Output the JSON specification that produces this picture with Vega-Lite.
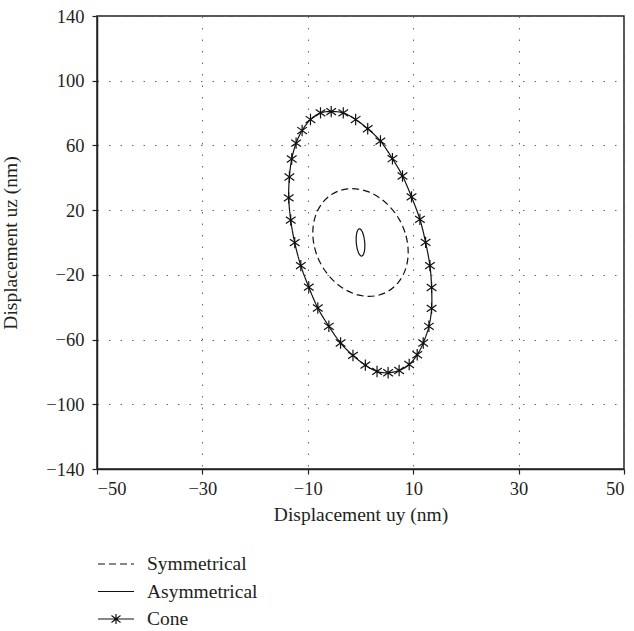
{
 "$schema": "https://vega.github.io/schema/vega-lite/v6.json",
 "width": 527, "height": 453,
 "autosize": {"type": "none"},
 "padding": {"left": 97, "top": 16, "right": 10, "bottom": 162},
 "background": "white",
 "config": {
  "view": {"stroke": "#222", "strokeWidth": 1.5},
  "font": "Liberation Serif",
  "axis": {"domainColor": "#222", "domainWidth": 1.5, "tickColor": "#222", "tickSize": 5, "tickWidth": 1.2,
   "labelFont": "Liberation Serif", "labelFontSize": 18.5, "labelColor": "#231f20",
   "titleFont": "Liberation Serif", "titleFontSize": 19.5, "titleFontWeight": "normal", "titleColor": "#231f20",
   "grid": true, "gridColor": "#666", "gridDash": [1.5, 10], "gridWidth": 1}
 },
 "data": {"values": [
  {"series":"Symmetrical","i":0,"x":9,"y":-2.5},
  {"series":"Symmetrical","i":1,"x":8.45,"y":6.18},
  {"series":"Symmetrical","i":2,"x":7.32,"y":14.43},
  {"series":"Symmetrical","i":3,"x":5.69,"y":21.7},
  {"series":"Symmetrical","i":4,"x":3.68,"y":27.5},
  {"series":"Symmetrical","i":5,"x":1.41,"y":31.42},
  {"series":"Symmetrical","i":6,"x":-0.95,"y":33.2},
  {"series":"Symmetrical","i":7,"x":-3.25,"y":32.72},
  {"series":"Symmetrical","i":8,"x":-5.32,"y":30.0},
  {"series":"Symmetrical","i":9,"x":-7.03,"y":25.24},
  {"series":"Symmetrical","i":10,"x":-8.27,"y":18.77},
  {"series":"Symmetrical","i":11,"x":-8.94,"y":11.02},
  {"series":"Symmetrical","i":12,"x":-9,"y":2.5},
  {"series":"Symmetrical","i":13,"x":-8.45,"y":-6.18},
  {"series":"Symmetrical","i":14,"x":-7.32,"y":-14.43},
  {"series":"Symmetrical","i":15,"x":-5.69,"y":-21.7},
  {"series":"Symmetrical","i":16,"x":-3.68,"y":-27.5},
  {"series":"Symmetrical","i":17,"x":-1.41,"y":-31.42},
  {"series":"Symmetrical","i":18,"x":0.95,"y":-33.2},
  {"series":"Symmetrical","i":19,"x":3.25,"y":-32.72},
  {"series":"Symmetrical","i":20,"x":5.32,"y":-30.0},
  {"series":"Symmetrical","i":21,"x":7.03,"y":-25.24},
  {"series":"Symmetrical","i":22,"x":8.27,"y":-18.77},
  {"series":"Symmetrical","i":23,"x":8.94,"y":-11.02},
  {"series":"Asymmetrical","i":0,"x":0.8,"y":0},
  {"series":"Asymmetrical","i":1,"x":0.59,"y":4.2},
  {"series":"Asymmetrical","i":2,"x":0.23,"y":7.27},
  {"series":"Asymmetrical","i":3,"x":-0.2,"y":8.4},
  {"series":"Asymmetrical","i":4,"x":-0.57,"y":7.27},
  {"series":"Asymmetrical","i":5,"x":-0.79,"y":4.2},
  {"series":"Asymmetrical","i":6,"x":-0.8,"y":0},
  {"series":"Asymmetrical","i":7,"x":-0.59,"y":-4.2},
  {"series":"Asymmetrical","i":8,"x":-0.23,"y":-7.27},
  {"series":"Asymmetrical","i":9,"x":0.2,"y":-8.4},
  {"series":"Asymmetrical","i":10,"x":0.57,"y":-7.27},
  {"series":"Asymmetrical","i":11,"x":0.79,"y":-4.2},
  {"series":"Cone","i":1,"x":-7.59,"y":80.1},
  {"series":"Cone","i":2,"x":-5.56,"y":80.9},
  {"series":"Cone","i":3,"x":-3.27,"y":80.1},
  {"series":"Cone","i":4,"x":-0.92,"y":76.0},
  {"series":"Cone","i":5,"x":1.37,"y":70.3},
  {"series":"Cone","i":6,"x":3.78,"y":62.7},
  {"series":"Cone","i":7,"x":6.06,"y":51.8},
  {"series":"Cone","i":8,"x":7.97,"y":41.1},
  {"series":"Cone","i":9,"x":9.68,"y":28.2},
  {"series":"Cone","i":10,"x":11.27,"y":14.3},
  {"series":"Cone","i":11,"x":12.35,"y":0.1},
  {"series":"Cone","i":12,"x":13.17,"y":-14.3},
  {"series":"Cone","i":13,"x":13.49,"y":-27.8},
  {"series":"Cone","i":14,"x":13.49,"y":-40.7},
  {"series":"Cone","i":15,"x":12.98,"y":-51.8},
  {"series":"Cone","i":16,"x":11.9,"y":-62.1},
  {"series":"Cone","i":17,"x":10.76,"y":-69.4},
  {"series":"Cone","i":18,"x":9.24,"y":-75.4},
  {"series":"Cone","i":19,"x":7.33,"y":-79.1},
  {"series":"Cone","i":20,"x":5.24,"y":-80.5},
  {"series":"Cone","i":21,"x":3.14,"y":-79.7},
  {"series":"Cone","i":22,"x":0.92,"y":-75.8},
  {"series":"Cone","i":23,"x":-1.43,"y":-69.8},
  {"series":"Cone","i":24,"x":-3.78,"y":-62.1},
  {"series":"Cone","i":25,"x":-6.0,"y":-51.8},
  {"series":"Cone","i":26,"x":-8.1,"y":-40.5},
  {"series":"Cone","i":27,"x":-9.81,"y":-27.6},
  {"series":"Cone","i":28,"x":-11.33,"y":-14.3},
  {"series":"Cone","i":29,"x":-12.48,"y":-0.1},
  {"series":"Cone","i":30,"x":-13.24,"y":13.8},
  {"series":"Cone","i":31,"x":-13.62,"y":27.6},
  {"series":"Cone","i":32,"x":-13.49,"y":40.5},
  {"series":"Cone","i":33,"x":-13.05,"y":51.6},
  {"series":"Cone","i":34,"x":-12.22,"y":61.4},
  {"series":"Cone","i":35,"x":-11.08,"y":69.2},
  {"series":"Cone","i":36,"x":-9.49,"y":76.0}
 ]},
 "encoding": {
  "x": {"field": "x", "type": "quantitative", "scale": {"domain": [-50, 50], "nice": false},
   "axis": {"values": [-50, -30, -10, 10, 30, 50], "title": "Displacement uy (nm)", "labelPadding": 5, "titlePadding": 8}},
  "y": {"field": "y", "type": "quantitative", "scale": {"domain": [-140, 140], "nice": false},
   "axis": {"values": [-140, -100, -60, -20, 20, 60, 100, 140], "title": "Displacement uz (nm)", "labelPadding": 8, "titleX": -77}}
 },
 "layer": [
  {
   "mark": {"type": "line", "interpolate": "cardinal-closed", "color": "#111", "strokeWidth": 1.2},
   "encoding": {
    "order": {"field": "i", "type": "quantitative"},
    "detail": {"field": "series", "type": "nominal"},
    "strokeDash": {"field": "series", "type": "nominal",
     "scale": {"domain": ["Symmetrical", "Asymmetrical", "Cone"], "range": [[7, 4], [1, 0], [1, 0]]},
     "legend": {"orient": "none", "legendX": 8, "legendY": 537, "direction": "vertical", "title": null,
      "symbolSize": 400, "labelOffset": 20, "rowPadding": 6.5, "padding": 0,
      "labelFont": "Liberation Serif", "labelFontSize": 19.5, "labelColor": "#231f20",
      "symbolStrokeColor": "#111", "symbolStrokeWidth": 1.2, "symbolType": "M-1.8,0L1.8,0",
      "encode": {"symbols": {"update": {
       "stroke": {"value": "#111"}, "fill": {"value": "transparent"},
       "shape": {"signal": "datum.value === 'Cone' ? 'M-1.8,0L1.8,0M0,-0.5L0,0.5M-0.45,-0.35L0.45,0.35M-0.45,0.35L0.45,-0.35' : 'M-1.8,0L1.8,0'"}}}}}
    }
   }
  },
  {
   "transform": [{"filter": "datum.series === 'Cone'"}],
   "mark": {"type": "point", "shape": "M0,-1L0,1M-0.85,-0.6L0.85,0.6M-0.85,0.6L0.85,-0.6", "size": 130, "filled": false, "stroke": "#111", "strokeWidth": 1.2, "opacity": 1}
  }
 ]
}
